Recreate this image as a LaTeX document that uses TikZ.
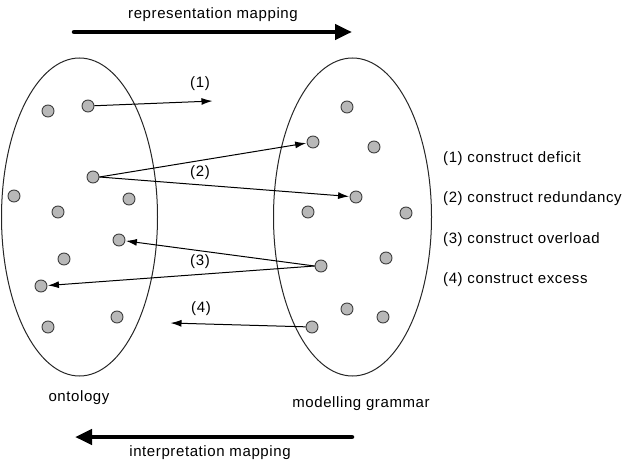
\documentclass[tikz,border=0pt]{standalone}
\usepackage{fontspec}
\setmainfont{Liberation Sans}[LetterSpace=4]
\usetikzlibrary{arrows.meta,shapes.geometric}
\begin{document}
\begin{tikzpicture}[x=1pt,y=-1pt,
  dot/.style={circle, draw=black!75, fill=black!28, minimum size=12pt, inner sep=0pt, line width=0.9pt},
  map/.style={-{Latex[length=11pt,width=7pt]}, line width=1pt, shorten >=0.5pt},
  bigarrow/.style={-{Triangle[length=17pt,width=15pt]}, line width=4.5pt, line cap=round},
  lbl/.style={font=\fontsize{15}{17}\selectfont, inner sep=0pt},
  set/.style={ellipse, draw=black!85, line width=1pt, inner sep=0pt}]
\useasboundingbox (0,0) rectangle (631,460);
% sets
\node[set, minimum width=156pt, minimum height=318pt] (ont) at (79.5,217) {};
\node[set, minimum width=158pt, minimum height=318pt] (gram) at (352.5,217) {};
% left dots
\node[dot] (l1) at (48,111) {};
\node[dot] (l2) at (88,106) {};
\node[dot] (l3) at (93,177) {};
\node[dot] (l4) at (14,196) {};
\node[dot] (l5) at (58,212) {};
\node[dot] (l6) at (129,199) {};
\node[dot] (l7) at (119,240) {};
\node[dot] (l8) at (64,259) {};
\node[dot] (l9) at (41,286) {};
\node[dot] (l10) at (117,317) {};
\node[dot] (l11) at (48,327) {};
% right dots
\node[dot] (r1) at (347,107) {};
\node[dot] (r2) at (313,142) {};
\node[dot] (r3) at (374,147) {};
\node[dot] (r4) at (356,197) {};
\node[dot] (r5) at (308,212) {};
\node[dot] (r6) at (406,213) {};
\node[dot] (r7) at (386,258) {};
\node[dot] (r8) at (321,266) {};
\node[dot] (r9) at (347,309) {};
\node[dot] (r10) at (383,317) {};
\node[dot] (r11) at (312,327) {};
% free ends
\coordinate (e1) at (213,101);
\coordinate (e4) at (170,323);
% mapping arrows
\draw[map] (l2) -- (e1);
\draw[map] (l3.east) -- (r2);
\draw[map] (l3.east) -- (r4);
\draw[map] (r8.west) -- (l7);
\draw[map] (r8.west) -- (l9);
\draw[map] (r11) -- (e4);
% arrow labels
\node[lbl] (n1) at (200,84) {(1)};
\node[lbl] (n2) at (200,173) {(2)};
\node[lbl] (n3) at (200,262) {(3)};
\node[lbl] (n4) at (201,309) {(4)};
% legend
\node[lbl, anchor=west] (k1) at (443,159) {(1) construct deficit};
\node[lbl, anchor=west] (k2) at (443,199) {(2) construct redundancy};
\node[lbl, anchor=west] (k3) at (443,240) {(3) construct overload};
\node[lbl, anchor=west] (k4) at (443,280) {(4) construct excess};
% set labels
\node[lbl] (ontl) at (79,398) {ontology};
\node[lbl] (graml) at (361,404) {modelling grammar};
% big arrows
\coordinate (ta) at (74,32);
\coordinate (tb) at (352,32);
\draw[bigarrow] (ta) -- (tb);
\node[lbl] (tl) at (213,15) {representation mapping};
\coordinate (ba) at (352,437);
\coordinate (bb) at (75,437);
\draw[bigarrow] (ba) -- (bb);
\node[lbl] (bl) at (210,453) {interpretation mapping};
\end{tikzpicture}
\end{document}
